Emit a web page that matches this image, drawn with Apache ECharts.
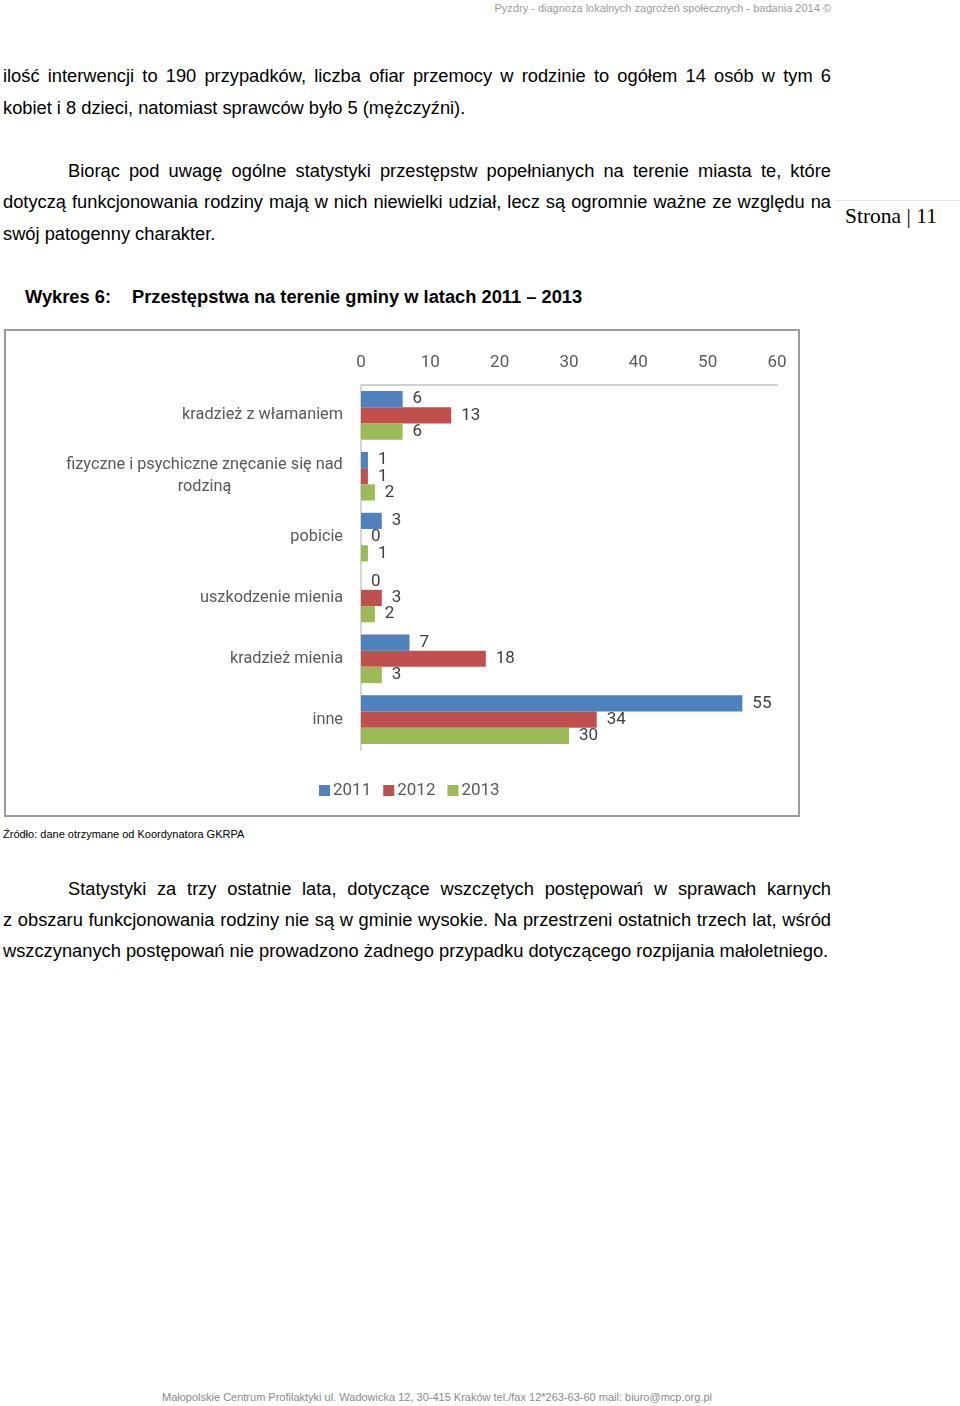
<!DOCTYPE html>
<html><head><meta charset="utf-8">
<script src="https://cdn.jsdelivr.net/npm/echarts@6/dist/echarts.min.js"></script>
<style>
html,body{margin:0;padding:0;background:#fff;}
body{width:960px;height:1406px;position:relative;overflow:hidden;font-family:"Liberation Sans",Arial,sans-serif;color:#000;}
.t{position:absolute;font-size:18.3px;line-height:22px;white-space:nowrap;}
.j{text-align:justify;text-align-last:justify;white-space:normal;}
.small{position:absolute;font-size:11px;line-height:14px;white-space:nowrap;}
</style></head><body>
<div class="small" style="right:129px;top:1px;color:#9a9a9a;">Pyzdry - diagnoza lokalnych zagrożeń społecznych - badania 2014 ©</div>

<div class="t j" style="left:3px;width:828px;top:65px;">ilość interwencji to 190 przypadków, liczba ofiar przemocy w rodzinie to ogółem 14 osób w tym 6</div>
<div class="t" style="left:3px;top:97px;">kobiet i 8 dzieci, natomiast sprawców było 5 (mężczyźni).</div>
<div class="t j" style="left:68px;width:763px;top:160px;">Biorąc pod uwagę ogólne statystyki przestępstw popełnianych na terenie miasta te, które</div>
<div class="t j" style="left:3px;width:828px;top:191px;">dotyczą funkcjonowania rodziny mają w nich niewielki udział, lecz są ogromnie ważne ze względu na</div>
<div class="t" style="left:3px;top:223px;">swój patogenny charakter.</div>

<div style="position:absolute;left:835px;top:200px;width:125px;height:1px;background:#e4e4e4;"></div>
<div style="position:absolute;left:845px;top:203px;font-family:'Liberation Serif','DejaVu Serif',serif;font-size:21.5px;line-height:26px;white-space:nowrap;">Strona | 11</div>

<div class="t" style="left:25px;top:286px;font-weight:bold;">Wykres 6:</div>
<div class="t" style="left:132px;top:286px;font-weight:bold;">Przestępstwa na terenie gminy w latach 2011 – 2013</div>

<div id="chart" style="position:absolute;left:4px;top:329px;width:796px;height:488px;"></div>
<div style="position:absolute;left:4px;top:329px;width:792px;height:484px;border:2px solid #9c9c9c;pointer-events:none;"></div>

<div class="small" style="left:3px;top:827px;">Źródło: dane otrzymane od Koordynatora GKRPA</div>

<div class="t j" style="left:68px;width:763px;top:878px;">Statystyki za trzy ostatnie lata, dotyczące wszczętych postępowań w sprawach karnych</div>
<div class="t j" style="left:3px;width:828px;top:909px;">z obszaru funkcjonowania rodziny nie są w gminie wysokie. Na przestrzeni ostatnich trzech lat, wśród</div>
<div class="t" style="left:3px;top:940px;">wszczynanych postępowań nie prowadzono żadnego przypadku dotyczącego rozpijania małoletniego.</div>

<div class="small" style="left:162px;top:1390px;color:#8a8a8a;">Małopolskie Centrum Profilaktyki ul. Wadowicka 12, 30-415 Kraków tel./fax 12*263-63-60 mail: biuro@mcp.org.pl</div>

<script>
const categories = ["kradzież z włamaniem", "fizyczne i psychiczne znęcanie się nad\nrodziną", "pobicie", "uszkodzenie mienia", "kradzież mienia", "inne"];
const seriesNames = ["2011", "2012", "2013"];
const values2011 = [6, 1, 3, 0, 7, 55];
const values2012 = [13, 1, 0, 3, 18, 34];
const values2013 = [6, 2, 1, 2, 3, 30];
const colors = ["#4F81BD", "#C0504D", "#9BBB59"];
const axisTicks = {min: 0, max: 60, interval: 10};

const font = "Roboto, 'Open Sans', sans-serif";
const fsize = 17;
const catSize = 16.3;
const ctx = document.createElement('canvas').getContext('2d');
ctx.font = catSize + 'px Roboto';
const chart = echarts.init(document.getElementById('chart'), null, {renderer: 'canvas'});
const catData = categories.map((c) => {
  if (c.indexOf('\n') >= 0) {
    const w = Math.max.apply(null, c.split('\n').map(s => ctx.measureText(s).width));
    return {value: c, textStyle: {align: 'center', padding: [0, Math.round(w), 0, 0]}};
  }
  return c;
});
const mk = (name, data, color) => ({
  name: name, type: 'bar', data: data, barGap: '0%', barCategoryGap: '20%',
  itemStyle: {color: color},
  label: {show: true, position: 'right', distance: 10, color: '#404040', fontFamily: font, fontSize: fsize},
  emphasis: {disabled: true}
});
chart.setOption({
  animation: false,
  color: colors,
  grid: {left: 357, right: 23, top: 56, bottom: 67},
  legend: {
    data: seriesNames, left: 310, top: 448, itemWidth: 11, itemHeight: 11, itemGap: 12,
    icon: 'rect', textStyle: {fontFamily: font, fontSize: fsize, color: '#595959', padding: [0, 0, 0, -2]}
  },
  xAxis: {
    type: 'value', position: 'top', min: axisTicks.min, max: axisTicks.max, interval: axisTicks.interval,
    axisLine: {show: true, lineStyle: {color: '#d0d0d0', width: 2}},
    axisTick: {show: false}, splitLine: {show: false},
    axisLabel: {fontFamily: font, fontSize: fsize, color: '#595959', margin: 14}
  },
  yAxis: {
    type: 'category', inverse: true, data: catData,
    axisLine: {show: true, lineStyle: {color: '#c8c8c8', width: 1.5}},
    axisTick: {show: false},
    axisLabel: {fontFamily: font, fontSize: catSize, color: '#595959', margin: 18, lineHeight: 22}
  },
  series: [mk(seriesNames[0], values2011, colors[0]), mk(seriesNames[1], values2012, colors[1]), mk(seriesNames[2], values2013, colors[2])]
});
</script>
</body></html>
